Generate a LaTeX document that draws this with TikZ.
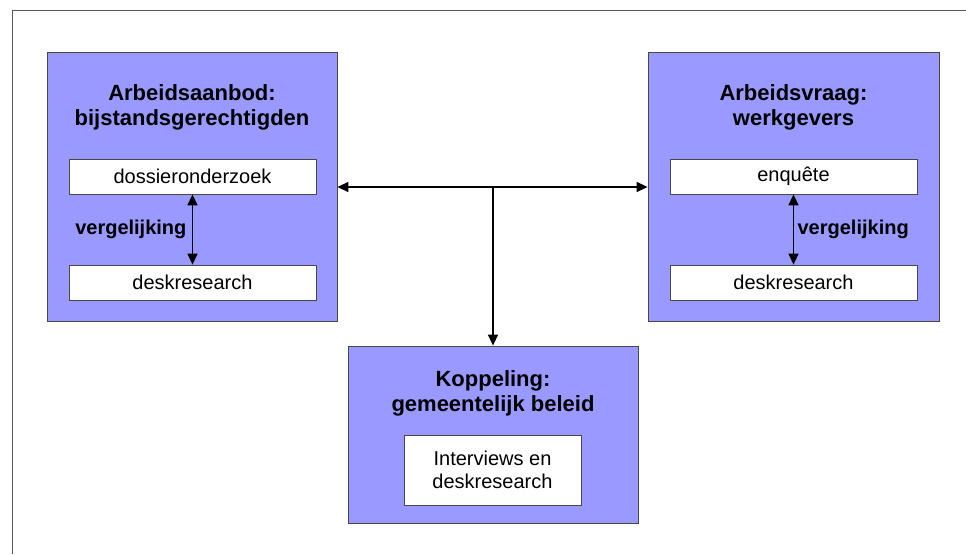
\documentclass[tikz,border=0pt]{standalone}
\usepackage{fontspec}
\setmainfont{Liberation Sans}
\usetikzlibrary{arrows.meta}
\definecolor{vak}{RGB}{153,153,255}
\definecolor{rand}{RGB}{72,72,72}

\begin{document}
\begin{tikzpicture}[x=1pt, y=-1pt, >={Triangle[length=11pt, width=10pt]},
    blok/.style={draw=rand, fill=vak, line width=0.8pt, inner sep=0pt},
    wit/.style={draw=rand, fill=white, line width=0.8pt, inner sep=0pt, align=center,
        minimum width=247pt, minimum height=35pt, font=\fontsize{20}{23.5}\selectfont},
    titel/.style={align=center, font=\fontsize{22}{25}\selectfont\bfseries},
    pijl/.style={line width=1.5pt},
    verg/.style={font=\fontsize{20}{24}\selectfont\bfseries}]
    \useasboundingbox (0,0) rectangle (966,554);
    % Kader
    \draw[black!65, line width=1pt] (966,10) -- (12,10) -- (12,554);
    % Arbeidsaanbod
    \node[blok, minimum width=290pt, minimum height=269pt] (aanbod) at (192,187) {};
    \node[titel] (aanbodtitel) at (192,107.5) {Arbeidsaanbod:\\bijstandsgerechtigden};
    \node[wit] (dossier) at (192.5,176.5) {dossieronderzoek};
    \node[wit] (deskaanbod) at (192.5,282.5) {deskresearch};
    \draw[pijl, <->] (dossier) -- (deskaanbod) node[midway, left, verg, xshift=-2pt] (vergaanbod) {vergelijking};
    % Arbeidsvraag
    \node[blok, minimum width=291pt, minimum height=269pt] (vraag) at (793.5,187) {};
    \node[titel] (vraagtitel) at (793.5,107.5) {Arbeidsvraag:\\werkgevers};
    \node[wit] (enquete) at (793.5,176.5) {enquête};
    \node[wit] (deskvraag) at (793.5,282.5) {deskresearch};
    \draw[pijl, <->] (enquete) -- (deskvraag) node[midway, right, verg] (vergvraag) {vergelijking};
    % Koppeling
    \node[blok, minimum width=290pt, minimum height=177pt] (koppeling) at (493,434.5) {};
    \node[titel] (koppelingtitel) at (493,393.5) {Koppeling:\\gemeentelijk beleid};
    \node[wit, minimum width=177pt, minimum height=70pt] (interviews) at (492.5,470) {Interviews en\\deskresearch};
    % Verbindingen
    \coordinate (hub) at (493,187);
    \draw[pijl, ->] (hub) -- (aanbod.east);
    \draw[pijl, ->] (hub) -- (vraag.west);
    \draw[pijl, ->] (hub) -- (koppeling.north);
\end{tikzpicture}
\end{document}
